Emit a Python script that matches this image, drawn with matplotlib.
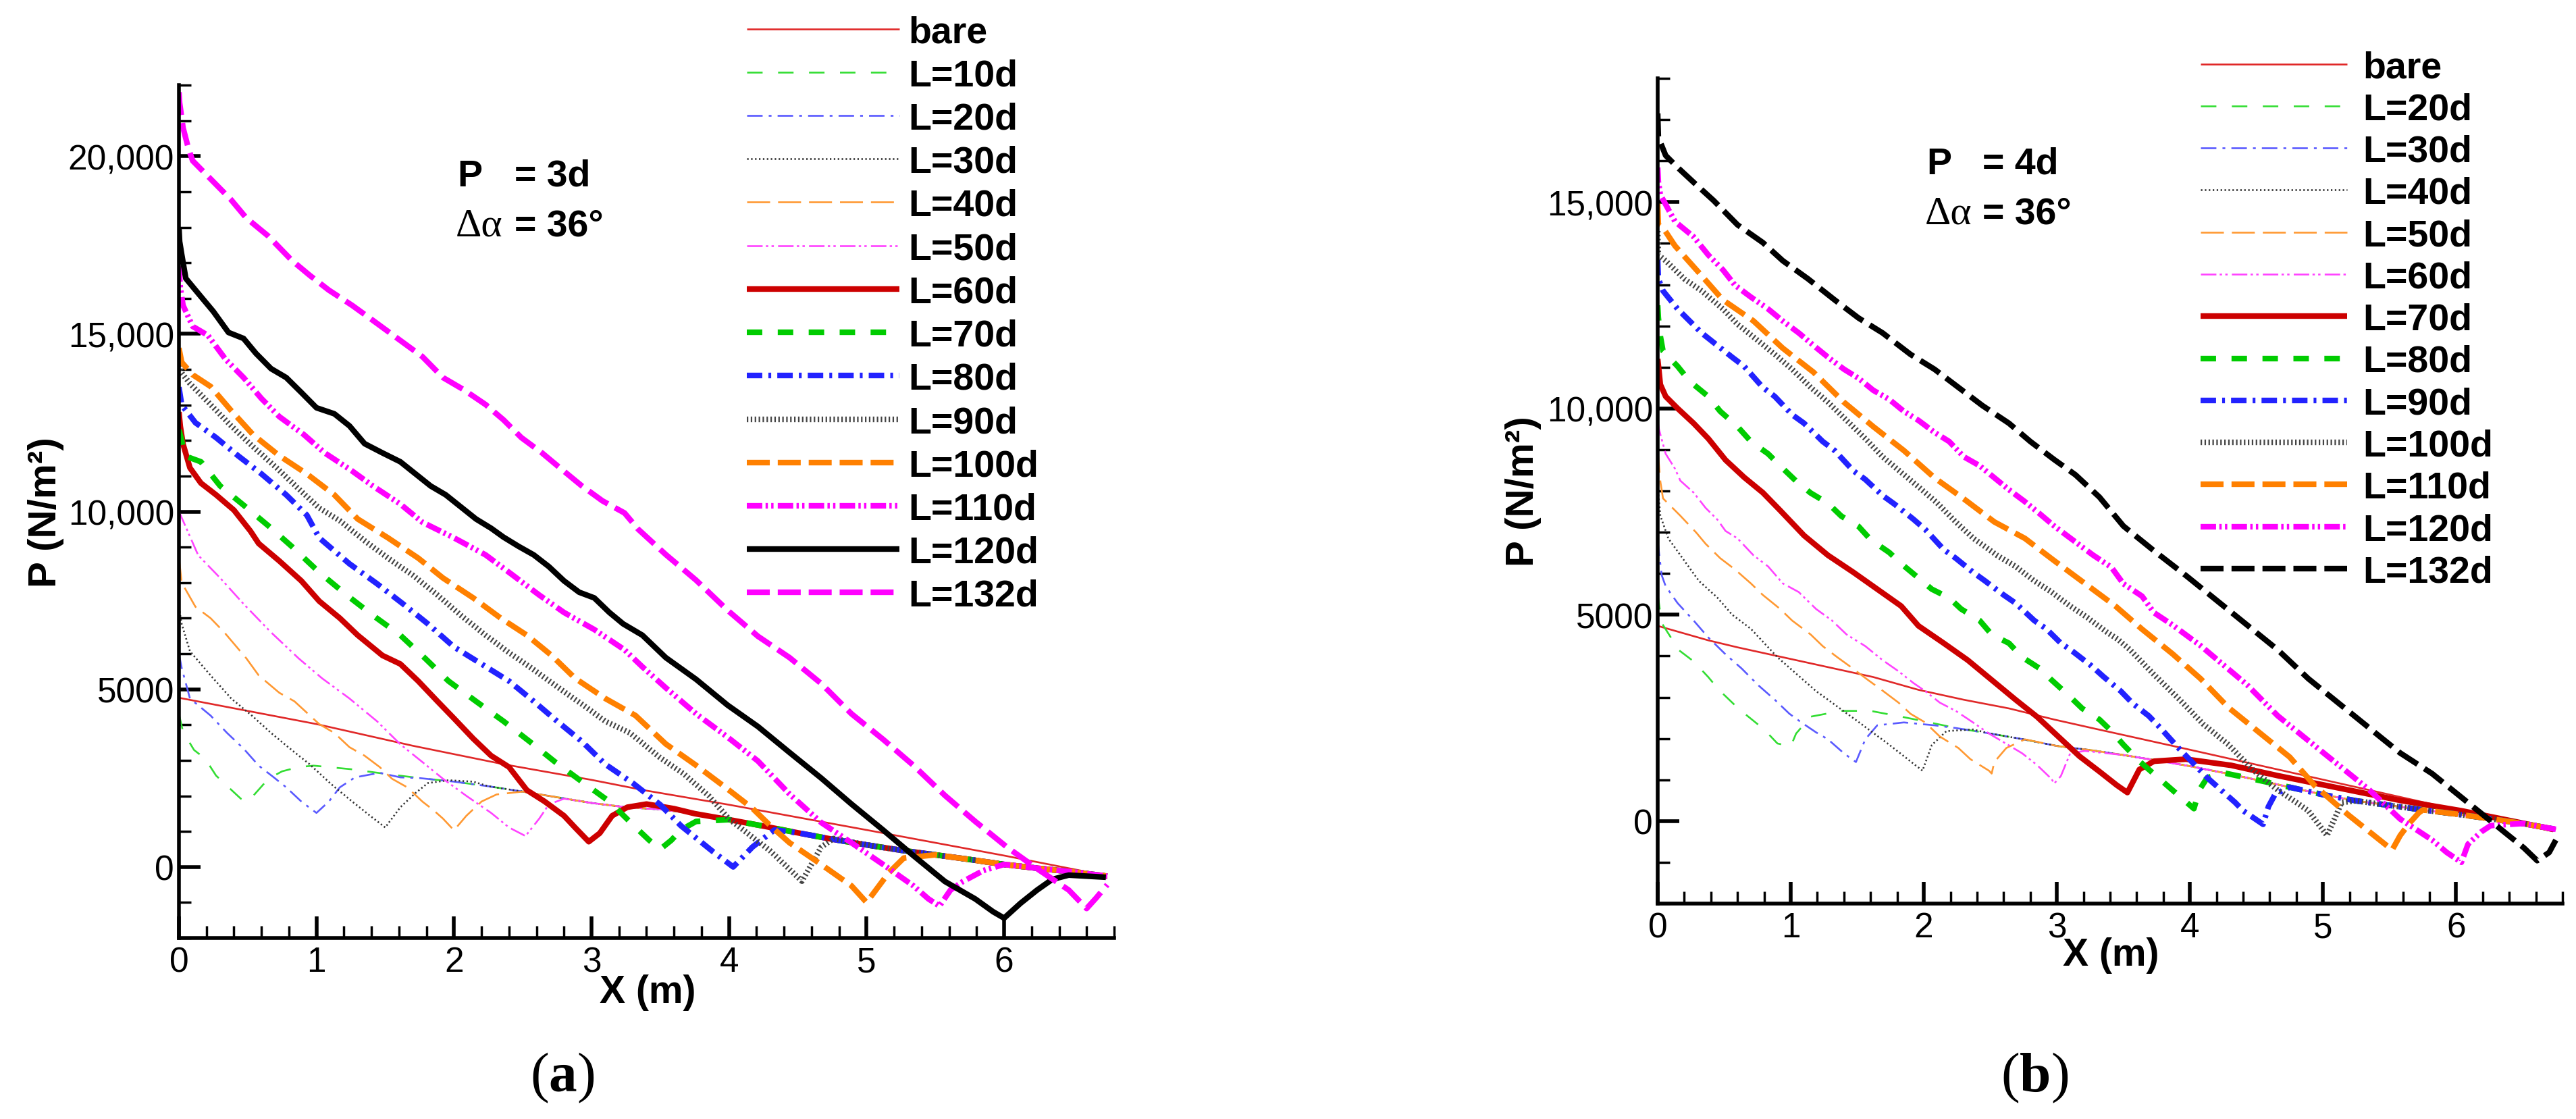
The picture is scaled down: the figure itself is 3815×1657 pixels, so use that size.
import matplotlib
matplotlib.use('Agg')
import matplotlib.pyplot as plt
from matplotlib.ticker import MultipleLocator, FixedLocator, FixedFormatter

plt.rcParams['font.family'] = ['Liberation Sans', 'DejaVu Sans']
plt.rcParams['lines.scale_dashes'] = False
plt.rcParams['mathtext.fontset'] = 'custom'
plt.rcParams['mathtext.rm'] = 'Liberation Serif'
plt.rcParams['mathtext.bf'] = 'Liberation Serif:bold'

W, H = 3816, 1658

# ---------------- panel (a): P = 3d ----------------
labels_a = ['bare', 'L=10d', 'L=20d', 'L=30d', 'L=40d', 'L=50d', 'L=60d',
            'L=70d', 'L=80d', 'L=90d', 'L=100d', 'L=110d', 'L=120d', 'L=132d']

# common line the curves fall onto downstream of the ring end
tail_a_x = [1.0, 1.25, 1.5, 1.75, 2.0, 2.25, 2.5, 2.75, 3.0, 3.25, 3.5, 3.75,
            4.0, 4.25, 4.5, 4.75, 5.0, 5.25, 5.5, 5.75, 6.0, 6.25, 6.5, 6.75]
tail_a_p = [2850, 2750, 2620, 2500, 2400, 2270, 2120, 1960, 1800, 1680, 1620, 1500,
            1330, 1150, 960, 780, 620, 470, 340, 210, 70, -40, -140, -260]

x_a_bare = [0, 0.5, 1, 1.7, 2.36, 3.0, 3.38, 4, 5, 6, 6.75]
p_a_bare = [4760, 4390, 4020, 3410, 2890, 2450, 2160, 1750, 1040, 320, -250]

x_a10 = [0, 0.03, 0.11, 0.19, 0.27, 0.35, 0.45, 0.5, 0.54, 0.65, 0.75, 0.87, 0.98]
p_a10 = [4300, 3800, 3290, 3050, 2570, 2280, 1920, 1840, 2000, 2480, 2690, 2810, 2850]

x_a20 = [0, 0.02, 0.08, 0.23, 0.35, 0.47, 0.58, 0.69, 0.78, 0.89, 1.0, 1.09, 1.17,
         1.28, 1.46, 1.61]
p_a20 = [6000, 5600, 4740, 4260, 3770, 3330, 2850, 2520, 2240, 1840, 1520, 1840, 2240,
         2520, 2650, 2520]

x_a30 = [0, 0.02, 0.08, 0.23, 0.38, 0.53, 0.67, 0.82, 0.95, 1.11, 1.26, 1.39, 1.5,
         1.61, 1.72, 1.81, 1.96, 2.14]
p_a30 = [7300, 6840, 6070, 5390, 4740, 4260, 3770, 3290, 2890, 2320, 1840, 1440, 1110,
         1680, 2080, 2360, 2440, 2400]

x_a40 = [0, 0.02, 0.12, 0.23, 0.33, 0.49, 0.58, 0.73, 0.84, 1.02, 1.13, 1.24, 1.35,
         1.46, 1.55, 1.66, 1.77, 1.85, 1.92, 2.0, 2.09, 2.2, 2.31]
p_a40 = [8700, 8000, 7320, 7000, 6600, 5870, 5390, 4900, 4660, 4020, 3770, 3370, 3130,
         2810, 2480, 2240, 1840, 1600, 1360, 1030, 1440, 1840, 2040]

x_a50 = [0, 0.03, 0.14, 0.3, 0.47, 0.67, 0.87, 1.04, 1.24, 1.44, 1.61, 1.79, 1.92,
         2.09, 2.27, 2.4, 2.52, 2.62, 2.69, 2.8]
p_a50 = [10000, 9740, 8770, 8130, 7400, 6600, 5870, 5310, 4740, 4100, 3450, 2890, 2480,
         2000, 1520, 1110, 870, 1360, 1760, 1920]

x_a60 = [0, 0.01, 0.03, 0.08, 0.16, 0.27, 0.4, 0.52, 0.58, 0.73, 0.89, 1.02, 1.17,
         1.3, 1.48, 1.61, 1.74, 1.88, 2.0, 2.14, 2.27, 2.4, 2.53, 2.66, 2.8, 2.88,
         2.98, 3.06, 3.15, 3.26, 3.4, 3.6]
p_a60 = [12800, 12400, 11900, 11230, 10800, 10470, 10040, 9450, 9100, 8610, 8050, 7480,
         7000, 6520, 5950, 5710, 5230, 4660, 4180, 3610, 3130, 2810, 2160, 1840, 1440,
         1110, 710, 950, 1440, 1680, 1770, 1640]

x_a70 = [0, 0.02, 0.04, 0.16, 0.3, 0.47, 0.65, 0.82, 1.02, 1.22, 1.41, 1.61, 1.79,
         1.96, 2.16, 2.36, 2.55, 2.73, 2.93, 3.13, 3.3, 3.42, 3.5, 3.58, 3.65, 3.76]
p_a70 = [12300, 12000, 11570, 11400, 10720, 10180, 9600, 9020, 8290, 7650, 7080, 6520,
         5870, 5230, 4660, 4100, 3530, 2970, 2400, 1840, 1190, 750, 500, 750, 1040, 1280]

x_a80 = [0, 0.02, 0.12, 0.27, 0.43, 0.6, 0.78, 0.93, 1.02, 1.24, 1.44, 1.63, 1.81,
         2.0, 2.2, 2.4, 2.58, 2.75, 2.93, 3.1, 3.3, 3.5, 3.65, 3.88, 4.03, 4.17, 4.33]
p_a80 = [13500, 13000, 12500, 12080, 11570, 11060, 10470, 9900, 9260, 8530, 7970, 7400,
         6840, 6190, 5710, 5230, 4660, 4100, 3530, 2890, 2360, 1750, 1160, 440, 0, 560,
         1040]

x_a90 = [0, 0.02, 0.08, 0.21, 0.38, 0.54, 0.71, 0.87, 1.02, 1.17, 1.35, 1.52, 1.7,
         1.88, 2.05, 2.23, 2.4, 2.58, 2.75, 2.93, 3.1, 3.28, 3.49, 3.67, 3.85, 4.0,
         4.3, 4.53, 4.67, 4.76]
p_a90 = [14100, 13900, 13600, 13090, 12410, 11820, 11230, 10640, 10100, 9740, 9180,
         8690, 8210, 7650, 7080, 6520, 6030, 5550, 5070, 4580, 4100, 3770, 3100, 2620,
         2010, 1350, 450, -400, 560, 800]

x_a100 = [0, 0.02, 0.1, 0.23, 0.38, 0.54, 0.73, 0.93, 1.13, 1.3, 1.52, 1.74, 1.92,
          2.14, 2.34, 2.53, 2.71, 2.88, 3.1, 3.32, 3.54, 3.76, 3.97, 4.17, 4.3, 4.44,
          4.67, 4.89, 5.0, 5.16, 5.27]
p_a100 = [14600, 14200, 13850, 13520, 12840, 12160, 11570, 11060, 10470, 9790, 9260,
          8690, 8130, 7570, 7000, 6520, 5950, 5310, 4740, 4260, 3460, 2860, 2250, 1650,
          1160, 680, 70, -530, -1000, -170, 250]

x_a110 = [0, 0.01, 0.03, 0.1, 0.21, 0.34, 0.47, 0.6, 0.73, 0.91, 1.06, 1.26, 1.41,
          1.61, 1.77, 2.0, 2.23, 2.4, 2.62, 2.8, 3.02, 3.24, 3.37, 3.54, 3.76, 3.99,
          4.21, 4.44, 4.67, 4.89, 5.12, 5.34, 5.45, 5.53, 5.61, 5.7, 5.85]
p_a110 = [16900, 16300, 15800, 15210, 14960, 14280, 13770, 13180, 12670, 12160, 11650,
          11140, 10720, 10210, 9700, 9260, 8780, 8290, 7650, 7160, 6680, 6110, 5630, 5040,
          4310, 3650, 2980, 2050, 1250, 680, 70, -530, -900, -1100, -650, -410, -100]

x_a120 = [0, 0.005, 0.02, 0.05, 0.14, 0.25, 0.36, 0.47, 0.56, 0.67, 0.78, 0.89, 1.0,
          1.13, 1.24, 1.35, 1.48, 1.61, 1.72, 1.83, 1.94, 2.05, 2.16, 2.27, 2.36, 2.47,
          2.58, 2.69, 2.8, 2.91, 3.02, 3.13, 3.23, 3.37, 3.54, 3.76, 3.99, 4.21, 4.44,
          4.67, 4.89, 5.12, 5.34, 5.57, 5.79, 5.92, 6.0, 6.12, 6.24, 6.35, 6.47, 6.74]
p_a120 = [18000, 17600, 17240, 16560, 16140, 15630, 15040, 14870, 14450, 14020, 13770,
          13350, 12920, 12750, 12410, 11910, 11650, 11400, 11060, 10720, 10470, 10130,
          9790, 9530, 9280, 9020, 8780, 8450, 8050, 7730, 7570, 7160, 6840, 6520, 5890,
          5280, 4550, 3950, 3220, 2500, 1770, 1040, 320, -410, -900, -1260, -1440, -1020,
          -650, -350, -230, -290]

x_a132 = [0, 0.005, 0.03, 0.07, 0.1, 0.23, 0.38, 0.49, 0.65, 0.82, 0.95, 1.09, 1.26,
          1.41, 1.59, 1.77, 1.92, 2.07, 2.23, 2.36, 2.49, 2.64, 2.77, 2.93, 3.08, 3.24,
          3.34, 3.54, 3.76, 3.99, 4.21, 4.44, 4.67, 4.89, 5.12, 5.34, 5.57, 5.79, 6.02,
          6.24, 6.47, 6.6, 6.67, 6.75]
p_a132 = [21800, 21500, 20800, 20200, 19870, 19360, 18770, 18260, 17750, 17070, 16650,
          16230, 15800, 15380, 14870, 14360, 13770, 13430, 13010, 12580, 12080, 11650,
          11230, 10720, 10300, 9960, 9500, 8790, 8070, 7220, 6490, 5890, 5160, 4310, 3590,
          2860, 2010, 1280, 560, -50, -650, -1170, -870, -500]

xs_a = [x_a_bare, x_a10, x_a20, x_a30, x_a40, x_a50, x_a60, x_a70, x_a80, x_a90,
        x_a100, x_a110, x_a120, x_a132]
ps_a = [p_a_bare, p_a10, p_a20, p_a30, p_a40, p_a50, p_a60, p_a70, p_a80, p_a90,
        p_a100, p_a110, p_a120, p_a132]
join_a = [None, 1.25, 1.75, 2.25, 2.5, 3.0, 3.75, 4.0, 4.5, 5.0, 5.5, 6.0, None, None]

# ---------------- panel (b): P = 4d ----------------
labels_b = ['bare', 'L=20d', 'L=30d', 'L=40d', 'L=50d', 'L=60d', 'L=70d',
            'L=80d', 'L=90d', 'L=100d', 'L=110d', 'L=120d', 'L=132d']

tail_b_x = [1.25, 1.5, 1.75, 2.0, 2.25, 2.5, 2.75, 3.0, 3.25, 3.5, 3.75, 4.0, 4.25,
            4.5, 4.75, 5.0, 5.25, 5.5, 5.75, 6.0, 6.25, 6.5, 6.75]
tail_b_p = [2600, 2640, 2560, 2420, 2250, 2120, 1980, 1820, 1720, 1600, 1470, 1330,
            1170, 1000, 820, 640, 490, 380, 270, 170, 60, -60, -200]

x_b_bare = [0, 0.38, 0.6, 0.94, 1.28, 1.62, 1.96, 2.3, 2.64, 2.98, 3.27, 3.97, 4.66,
            5.35, 6.04, 6.73]
p_b_bare = [4730, 4380, 4210, 3970, 3730, 3490, 3180, 2940, 2730, 2460, 2250, 1750, 1250,
            750, 250, -250]

x_b20 = [0, 0.03, 0.16, 0.27, 0.38, 0.46, 0.57, 0.67, 0.8, 0.9, 1.0, 1.04, 1.15, 1.38,
         1.6, 1.83]
p_b20 = [5500, 4800, 4140, 3870, 3490, 3180, 2840, 2560, 2220, 1880, 1810, 2120, 2530,
         2670, 2670, 2530]

x_b30 = [0, 0.01, 0.03, 0.06, 0.15, 0.27, 0.38, 0.51, 0.63, 0.76, 0.88, 0.99, 1.08,
         1.19, 1.28, 1.4, 1.49, 1.56, 1.65, 1.85, 2.08]
p_b30 = [6800, 6500, 5960, 5690, 5280, 4860, 4450, 4040, 3700, 3280, 2940, 2600, 2390,
         2150, 1980, 1640, 1430, 1980, 2320, 2390, 2320]

x_b40 = [0, 0.02, 0.08, 0.2, 0.31, 0.45, 0.56, 0.7, 0.9, 1.19, 1.51, 1.74, 1.99, 2.06,
         2.17, 2.37]
p_b40 = [8100, 7400, 6850, 6310, 5820, 5410, 5000, 4660, 3970, 3150, 2400, 1850, 1220,
         1840, 2180, 2220]

x_b50 = [0, 0.02, 0.04, 0.17, 0.29, 0.36, 0.47, 0.58, 0.7, 0.79, 0.92, 1.01, 1.15,
         1.24, 1.35, 1.44, 1.58, 1.67, 1.81, 1.9, 2.01, 2.12, 2.26, 2.35, 2.49, 2.51,
         2.53, 2.62, 2.76]
p_b50 = [9000, 8230, 7820, 7400, 6990, 6720, 6370, 6100, 5760, 5480, 5140, 4860, 4520,
         4240, 3970, 3760, 3420, 3210, 2870, 2600, 2390, 2050, 1770, 1500, 1220, 1150,
         1430, 1770, 1980]

x_b60 = [0, 0.01, 0.06, 0.13, 0.17, 0.27, 0.36, 0.45, 0.51, 0.6, 0.72, 0.83, 0.94,
         1.06, 1.19, 1.31, 1.42, 1.56, 1.69, 1.81, 1.92, 2.01, 2.12, 2.24, 2.37, 2.49,
         2.6, 2.74, 2.85, 2.96, 2.98, 3.03, 3.1, 3.21]
p_b60 = [9700, 9490, 8900, 8540, 8250, 7960, 7590, 7300, 7030, 6850, 6440, 6170, 5760,
         5550, 5140, 4860, 4520, 4240, 3900, 3630, 3350, 3150, 2870, 2670, 2390, 2120,
         1910, 1640, 1360, 1020, 910, 1090, 1640, 1700]

x_b70 = [0, 0.01, 0.02, 0.06, 0.15, 0.27, 0.38, 0.51, 0.65, 0.79, 0.92, 1.1, 1.28,
         1.47, 1.65, 1.83, 1.96, 2.15, 2.33, 2.51, 2.69, 2.85, 3.01, 3.17, 3.32, 3.45,
         3.53, 3.62, 3.73, 3.97, 4.31, 4.66, 5.12, 5.58, 6.04, 6.73]
p_b70 = [11200, 10900, 10580, 10290, 10000, 9640, 9270, 8750, 8330, 7960, 7530, 6920,
         6440, 6030, 5620, 5210, 4730, 4310, 3900, 3420, 2940, 2530, 2050, 1570, 1200,
         870, 690, 1250, 1450, 1500, 1350, 1100, 800, 500, 250, -200]

x_b80 = [0, 0.005, 0.02, 0.04, 0.15, 0.24, 0.38, 0.47, 0.6, 0.7, 0.83, 0.92, 1.04,
         1.15, 1.28, 1.38, 1.51, 1.6, 1.74, 1.83, 1.96, 2.06, 2.19, 2.28, 2.42, 2.51,
         2.64, 2.74, 2.87, 2.96, 3.1, 3.19, 3.32, 3.41, 3.5, 3.62, 3.94, 4.03, 4.07, 4.13]
p_b80 = [12500, 12200, 11750, 11390, 11020, 10660, 10290, 9930, 9560, 9200, 8900, 8610,
         8240, 7950, 7700, 7390, 7140, 6820, 6510, 6240, 5890, 5620, 5410, 5140, 4860,
         4520, 4310, 3970, 3700, 3420, 3010, 2730, 2460, 2180, 1850, 1450, 550, 300, 750,
         1050]

x_b90 = [0, 0.005, 0.04, 0.15, 0.33, 0.56, 0.65, 0.79, 0.88, 1.01, 1.1, 1.24, 1.33,
         1.47, 1.56, 1.69, 1.78, 1.92, 2.01, 2.15, 2.24, 2.37, 2.46, 2.6, 2.69, 2.83,
         2.92, 3.03, 3.12, 3.26, 3.35, 3.48, 3.57, 3.69, 3.78, 3.92, 4.01, 4.13, 4.34,
         4.4, 4.55, 4.59, 4.64]
p_b90 = [13600, 13140, 12850, 12410, 11830, 11240, 11020, 10510, 10290, 9850, 9640,
         9200, 8980, 8490, 8280, 7890, 7680, 7320, 7070, 6580, 6370, 6030, 5820, 5480,
         5280, 4860, 4660, 4310, 4110, 3760, 3500, 3150, 2850, 2550, 2250, 1750, 1450,
         1050, 450, 250, -80, 350, 650]

x_b100 = [0, 0.005, 0.06, 0.2, 0.33, 0.49, 0.6, 0.74, 0.88, 1.01, 1.15, 1.28, 1.42,
          1.56, 1.69, 1.83, 1.96, 2.1, 2.24, 2.37, 2.55, 2.69, 2.83, 2.96, 3.1, 3.23,
          3.37, 3.46, 3.55, 3.73, 3.92, 4.1, 4.29, 4.47, 4.66, 4.8, 4.89, 5.03, 5.1, 5.14]
p_b100 = [14300, 13720, 13580, 13140, 12850, 12410, 12040, 11680, 11310, 10950, 10510,
          10150, 9710, 9270, 8830, 8450, 8100, 7710, 7250, 6860, 6440, 6170, 5820, 5550,
          5210, 4930, 4590, 4400, 4150, 3550, 2950, 2350, 1850, 1250, 750, 450, 250, -350,
          150, 450]

x_b110 = [0, 0.005, 0.04, 0.13, 0.31, 0.49, 0.72, 0.94, 1.17, 1.4, 1.62, 1.85, 2.08,
          2.3, 2.53, 2.76, 2.98, 3.21, 3.44, 3.64, 3.87, 4.08, 4.29, 4.52, 4.75, 4.94,
          5.19, 5.52, 5.58, 5.65, 5.72]
p_b110 = [14960, 14450, 14380, 13940, 13290, 12630, 12120, 11460, 10880, 10150, 9560,
          8980, 8320, 7810, 7250, 6850, 6310, 5760, 5210, 4650, 4050, 3450, 2750, 2150,
          1550, 850, 150, -700, -350, -50, 200]

x_b120 = [0, 0.005, 0.02, 0.13, 0.27, 0.38, 0.49, 0.58, 0.7, 0.83, 0.94, 1.06, 1.17,
          1.28, 1.4, 1.51, 1.62, 1.74, 1.85, 1.96, 2.08, 2.19, 2.3, 2.42, 2.53, 2.64,
          2.76, 2.87, 2.98, 3.1, 3.27, 3.41, 3.5, 3.64, 3.73, 3.87, 4.08, 4.43, 4.66,
          4.89, 5.12, 5.35, 5.58, 5.82, 5.93, 6.04, 6.09, 6.19, 6.26]
p_b120 = [15840, 15500, 15180, 14530, 14160, 13720, 13360, 12990, 12700, 12410, 12120,
          11830, 11530, 11240, 10950, 10730, 10440, 10220, 9930, 9710, 9420, 9200, 8830,
          8610, 8320, 8030, 7740, 7450, 7150, 6860, 6450, 6150, 5750, 5450, 5050, 4750,
          4250, 3300, 2550, 1950, 1350, 750, 50, -460, -760, -1000, -560, -260, -110]

x_b132 = [0, 0.005, 0.06, 0.15, 0.27, 0.42, 0.6, 0.79, 0.94, 1.13, 1.33, 1.51, 1.69,
          1.9, 2.08, 2.26, 2.44, 2.64, 2.8, 2.98, 3.14, 3.32, 3.5, 3.73, 3.97, 4.2, 4.43,
          4.66, 4.89, 5.12, 5.35, 5.58, 5.82, 6.05, 6.28, 6.51, 6.61, 6.7, 6.75]
p_b132 = [17150, 16570, 16130, 15840, 15480, 15040, 14450, 14020, 13580, 13140, 12630,
          12190, 11830, 11310, 10950, 10510, 10070, 9640, 9200, 8760, 8390, 7850, 7150,
          6550, 5950, 5350, 4750, 4150, 3450, 2850, 2250, 1650, 1150, 550, -50, -650,
          -960, -760, -460]

xs_b = [x_b_bare, x_b20, x_b30, x_b40, x_b50, x_b60, x_b70, x_b80, x_b90, x_b100,
        x_b110, x_b120, x_b132]
ps_b = [p_b_bare, p_b20, p_b30, p_b40, p_b50, p_b60, p_b70, p_b80, p_b90, p_b100,
        p_b110, p_b120, p_b132]
join_b = [None, 2.0, 2.25, 2.5, 3.0, 3.5, None, 4.25, 4.75, 5.25, 5.75, 6.5, None]

# ---------------- line styles (dash lengths in points) ----------------
DASH = (16.5, 16.5)
LONG = (24.5, 8.5)
DDOT = (16.5, 6.5, 3, 6.5)
DDDOT = (16.5, 3.5, 2.5, 3.5, 2.5, 4.5)
DOT = (1.6, 2.6)
thin, thick = 1.9, 6.0

colors_a = ['#e02828', '#33dd33', '#5a5aff', '#333333', '#ff9933', '#ff44ff', '#cc0000',
            '#00cc00', '#2222ff', '#444444', '#ff8000', '#ff00ff', '#000000', '#ff00ff']
widths_a = [thin] * 6 + [thick] * 8
styles_a = [None, DASH, DDOT, DOT, LONG, DDDOT, None, DASH, DDOT, DOT, LONG, DDDOT, None, LONG]

colors_b = ['#e02828', '#33dd33', '#5a5aff', '#333333', '#ff9933', '#ff44ff', '#cc0000',
            '#00cc00', '#2222ff', '#444444', '#ff8000', '#ff00ff', '#000000']
widths_b = [thin] * 6 + [thick] * 7
styles_b = [None, DASH, DDOT, DOT, LONG, DDDOT, None, DASH, DDOT, DOT, LONG, DDDOT, LONG]


def with_tail(xs, ps, tx, tp, start):
    if start is None:
        return xs, ps
    keep = [i for i, v in enumerate(tx) if v >= start]
    return xs + [tx[i] for i in keep], ps + [tp[i] for i in keep]


def px_x(v):
    return v / W


def px_y(v):
    return 1 - v / H


fig = plt.figure(figsize=(W / 100, H / 100), dpi=100)
ax_a = fig.add_axes([265 / W, 1 - 1390 / H, 1385 / W, 1263 / H])
ax_b = fig.add_axes([2455 / W, 1 - 1339 / H, 1340 / W, 1222 / H])

legend_font = {'family': 'Liberation Sans', 'weight': 'bold', 'size': 40}


def draw_panel(ax, xs, ps, joins, tx, tp, labels, colors, widths, styles):
    handles = []
    for x, p, j, c, w, s in zip(xs, ps, joins, colors, widths, styles):
        xx, pp = with_tail(x, p, tx, tp, j)
        ls = '-' if s is None else (0, s)
        h, = ax.plot(xx, pp, color=c, lw=w, linestyle=ls,
                     dash_capstyle='butt', solid_capstyle='butt')
        handles.append(h)
    for side in ['top', 'right']:
        ax.spines[side].set_visible(False)
    for side in ['left', 'bottom']:
        ax.spines[side].set_linewidth(4)
    ax.xaxis.set_major_locator(MultipleLocator(1))
    ax.xaxis.set_minor_locator(MultipleLocator(0.2))
    ax.yaxis.set_minor_locator(MultipleLocator(1000))
    ax.tick_params(which='major', direction='in', length=23, width=4, labelsize=37,
                   top=False, right=False)
    ax.tick_params(which='minor', direction='in', length=13, width=2.5,
                   top=False, right=False)
    ax.tick_params(axis='x', which='major', pad=8)
    ax.tick_params(axis='y', which='major', pad=5)
    ax.set_xlim(0, 6.8)
    ax.set_xlabel('X (m)', fontsize=41, fontweight='bold')
    ax.set_ylabel('P (N/m\u00b2)', fontsize=42, fontweight='bold')
    return handles


h_a = draw_panel(ax_a, xs_a, ps_a, join_a, tail_a_x, tail_a_p, labels_a,
                 colors_a, widths_a, styles_a)
ax_a.set_ylim(-2000, 22000)
ax_a.yaxis.set_major_locator(FixedLocator([0, 5000, 10000, 15000, 20000]))
ax_a.yaxis.set_major_formatter(FixedFormatter(['0', '5000', '10,000', '15,000', '20,000']))
ax_a.xaxis.set_label_coords(0.501, -0.042)
ax_a.yaxis.set_label_coords(-0.123, 0.5)
ax_a.legend(h_a, labels_a, loc='upper left', bbox_to_anchor=(px_x(1106), px_y(23)),
            bbox_transform=fig.transFigure, frameon=False, prop=legend_font,
            handlelength=4.07, handletextpad=0.23, labelspacing=0.22,
            borderpad=0, borderaxespad=0)

h_b = draw_panel(ax_b, xs_b, ps_b, join_b, tail_b_x, tail_b_p, labels_b,
                 colors_b, widths_b, styles_b)
ax_b.set_ylim(-2000, 18000)
ax_b.yaxis.set_major_locator(FixedLocator([0, 5000, 10000, 15000]))
ax_b.yaxis.set_major_formatter(FixedFormatter(['0', '5000', '10,000', '15,000']))
ax_b.xaxis.set_label_coords(0.501, -0.040)
ax_b.yaxis.set_label_coords(-0.128, 0.5)
ax_b.legend(h_b, labels_b, loc='upper left', bbox_to_anchor=(px_x(3259), px_y(75)),
            bbox_transform=fig.transFigure, frameon=False, prop=legend_font,
            handlelength=3.9, handletextpad=0.43, labelspacing=0.185,
            borderpad=0, borderaxespad=0)

# parameter annotations
bold = {'family': 'Liberation Sans', 'weight': 'bold', 'size': 40}
serif = {'family': 'Liberation Serif', 'size': 43}
for (xl, xe, y1, y2, ptxt) in [(677, 762, 276, 350, '= 3d'), (2853, 2936, 258, 332, '= 4d')]:
    fig.text(px_x(xl), px_y(y1), 'P', va='baseline', ha='left', fontdict=bold)
    fig.text(px_x(xe), px_y(y1), ptxt, va='baseline', ha='left', fontdict=bold)
    fig.text(px_x(xl - 2), px_y(y2), '\u0394\u03b1', va='baseline', ha='left', fontdict=serif)
    fig.text(px_x(xe), px_y(y2), '= 36\u00b0', va='baseline', ha='left', fontdict=bold)

fig.text(px_x(833), px_y(1596), r'$(\mathbf{a})$', ha='center', va='center', fontsize=60)
fig.text(px_x(3013), px_y(1596), r'$(\mathbf{b})$', ha='center', va='center', fontsize=60)

fig.savefig('out.png', dpi=100)
